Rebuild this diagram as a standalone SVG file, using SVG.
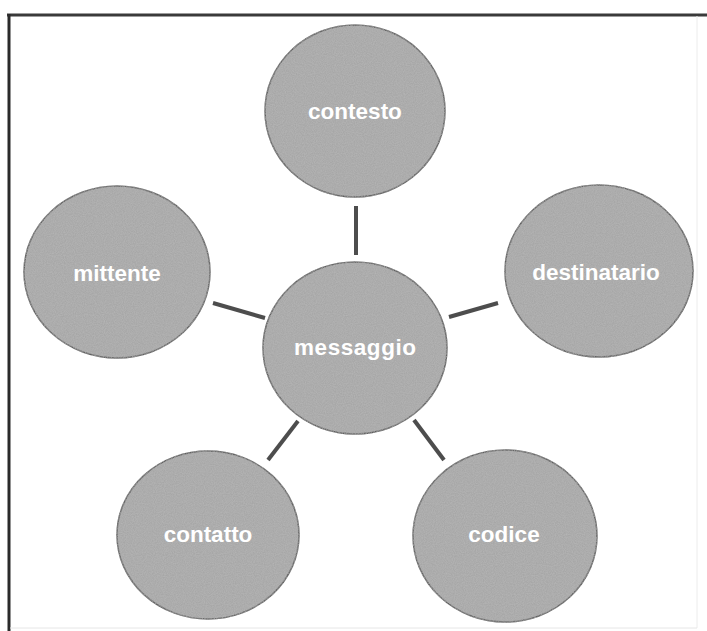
<svg xmlns="http://www.w3.org/2000/svg" width="707" height="631" viewBox="0 0 707 631">
  <style>
    .node ellipse { fill: #a7a7a7; stroke: #5e5e5e; stroke-width: 1.5; filter: url(#grain); }
    .node text { font-family: "Liberation Sans", Arial, sans-serif; font-weight: bold; font-size: 22.5px; fill: #ffffff; text-anchor: middle; }
    .conn line { stroke: #4d4d4d; stroke-width: 4; stroke-linecap: butt; }
  </style>
  <defs>
    <filter id="grain" x="-5%" y="-5%" width="110%" height="110%">
      <feTurbulence type="fractalNoise" baseFrequency="0.9" numOctaves="2" seed="3" result="noise"/>
      <feColorMatrix in="noise" type="matrix" values="0 0 0 0 0.5  0 0 0 0 0.5  0 0 0 0 0.5  0 0 0 0.9 -0.2" result="tint"/>
      <feComposite in="tint" in2="SourceGraphic" operator="in" result="masked"/>
      <feMerge>
        <feMergeNode in="SourceGraphic"/>
        <feMergeNode in="masked"/>
      </feMerge>
    </filter>
  </defs>
  <rect width="707" height="631" fill="#ffffff"/>
  <g id="frame">
    <line x1="7" y1="15" x2="707" y2="15" stroke="#3a3a3a" stroke-width="3"/>
    <line x1="9" y1="14" x2="9" y2="631" stroke="#2a2a2a" stroke-width="3"/>
    <line x1="697" y1="16" x2="697" y2="628" stroke="#ececec" stroke-width="1"/>
    <line x1="10" y1="628" x2="697" y2="628" stroke="#e6e6e6" stroke-width="1"/>
  </g>
  <g id="connectors" class="conn">
    <line x1="356" y1="206" x2="356" y2="255"/>
    <line x1="213" y1="303" x2="265" y2="318"/>
    <line x1="449" y1="317" x2="498" y2="303"/>
    <line x1="298" y1="421" x2="268" y2="460"/>
    <line x1="414" y1="420" x2="444" y2="460"/>
  </g>
  <g id="contesto" class="node">
    <ellipse cx="355" cy="111" rx="90" ry="86"/>
    <text x="355" y="119">contesto</text>
  </g>
  <g id="messaggio" class="node">
    <ellipse cx="355" cy="348" rx="92" ry="86"/>
    <text x="355" y="355" textLength="122" lengthAdjust="spacing">messaggio</text>
  </g>
  <g id="mittente" class="node">
    <ellipse cx="117" cy="272" rx="93" ry="86"/>
    <text x="117" y="281">mittente</text>
  </g>
  <g id="destinatario" class="node">
    <ellipse cx="599" cy="271" rx="94" ry="86"/>
    <text x="596" y="280">destinatario</text>
  </g>
  <g id="contatto" class="node">
    <ellipse cx="208" cy="535" rx="91" ry="84"/>
    <text x="208" y="542">contatto</text>
  </g>
  <g id="codice" class="node">
    <ellipse cx="505" cy="536" rx="92" ry="86"/>
    <text x="504" y="542">codice</text>
  </g>
</svg>
